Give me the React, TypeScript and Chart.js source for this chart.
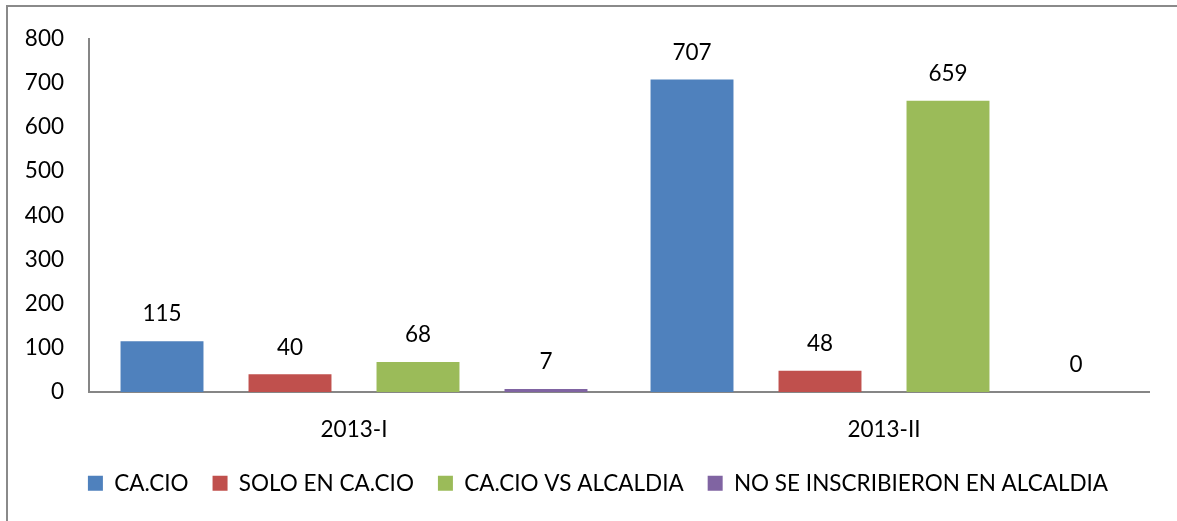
import React, { useEffect, useRef } from "react";
import { Chart, registerables } from "chart.js";

Chart.register(...registerables);

const categories = ["2013-I", "2013-II"];
const seriesNames = ["CA.CIO", "SOLO EN CA.CIO", "CA.CIO VS ALCALDIA", "NO SE INSCRIBIERON EN ALCALDIA"];
const caCio = [115, 707];
const soloEnCaCio = [40, 48];
const caCioVsAlcaldia = [68, 659];
const noSeInscribieron = [7, 0];
const seriesColors = ["#4F81BD", "#C0504D", "#9BBB59", "#8064A2"];
const yTicks = [0, 100, 200, 300, 400, 500, 600, 700, 800];

const FONT = "Lato, 'Open Sans', sans-serif";
const FONT_SIZE = 22.5;
const LEGEND_CENTER_X = 598;

const valueLabels = {
  id: "valueLabels",
  afterDatasetsDraw(chart: any) {
    const ctx = chart.ctx;
    ctx.save();
    ctx.font = `${FONT_SIZE}px ${FONT}`;
    ctx.fillStyle = "#000";
    ctx.textAlign = "center";
    ctx.textBaseline = "middle";
    chart.data.datasets.forEach((ds: any, i: number) => {
      const meta = chart.getDatasetMeta(i);
      meta.data.forEach((el: any, j: number) => {
        ctx.fillText(String(ds.data[j]), el.x, el.y - 27);
      });
    });
    ctx.restore();
  },
};

const legendShift = {
  id: "legendShift",
  afterLayout(chart: any) {
    const lg = chart.legend;
    if (!lg) return;
    const shift = LEGEND_CENTER_X - (lg.left + lg.right) / 2;
    lg.left += shift;
    lg.right += shift;
  },
};

export default function App() {
  const ref = useRef<HTMLCanvasElement | null>(null);
  useEffect(() => {
    if (!ref.current) return;
    const data = [caCio, soloEnCaCio, caCioVsAlcaldia, noSeInscribieron];
    const chart = new Chart(ref.current, {
      type: "bar",
      data: {
        labels: categories,
        datasets: seriesNames.map((name, i) => ({
          label: name,
          data: data[i],
          backgroundColor: seriesColors[i],
          borderWidth: 0,
          barPercentage: 0.648,
          categoryPercentage: 0.966,
        })),
      },
      options: {
        responsive: false,
        devicePixelRatio: 1,
        animation: false,
        layout: { padding: { top: 34.5, right: 28, bottom: 16.5, left: 0 } },
        font: { family: FONT, size: FONT_SIZE },
        plugins: {
          tooltip: { enabled: false },
          legend: {
            position: "bottom",
            labels: {
              boxWidth: 15,
              boxHeight: 15,
              padding: 24,
              color: "#000",
              font: { family: FONT, size: FONT_SIZE },
            },
          },
        },
        scales: {
          x: {
            grid: { display: false, drawTicks: false },
            border: { display: true, color: "#868686", width: 2 },
            ticks: { color: "#000", padding: 24.5, font: { family: FONT, size: FONT_SIZE } },
            afterFit(scale: any) {
              scale.height = 56;
            },
          },
          y: {
            min: 0,
            max: 800,
            grid: { display: false, drawTicks: false },
            border: { display: true, color: "#868686", width: 2 },
            afterBuildTicks(scale: any) {
              scale.ticks = yTicks.map((v) => ({ value: v }));
            },
            afterFit(scale: any) {
              scale.width = 89;
            },
            ticks: { color: "#000", padding: 25, font: { family: FONT, size: FONT_SIZE } },
          },
        },
      },
      plugins: [valueLabels, legendShift],
    });
    return () => chart.destroy();
  }, []);
  return (
    <div style={{ position: "fixed", left: 0, top: 0, width: 1177, height: 521, overflow: "hidden", background: "#fff" }}>
      <div
        style={{
          position: "absolute",
          left: 6,
          top: 5,
          width: 1200,
          height: 540,
          border: "2px solid #8a8a8a",
          boxSizing: "border-box",
        }}
      />
      <canvas ref={ref} width={1177} height={521} style={{ position: "absolute", left: 0, top: 0, width: 1177, height: 521 }} />
    </div>
  );
}
